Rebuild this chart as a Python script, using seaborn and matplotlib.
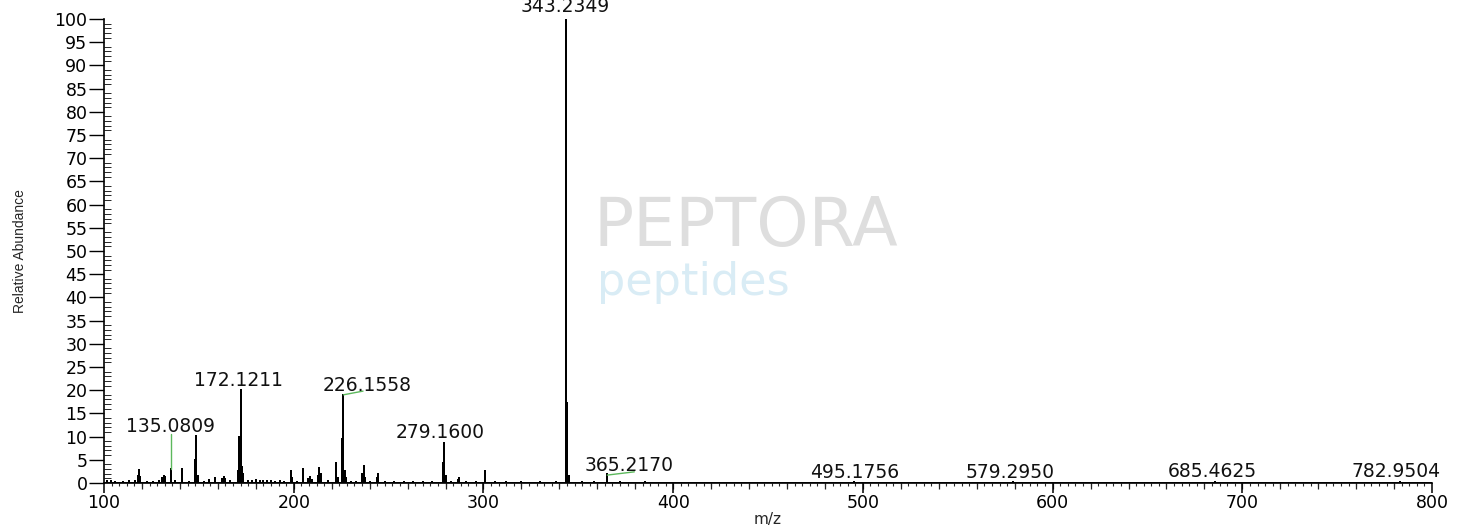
import numpy as np
import pandas as pd
import matplotlib
matplotlib.use("Agg")
import matplotlib.pyplot as plt
from matplotlib.ticker import MultipleLocator
import seaborn as sns

# ---- data: stick spectrum (m/z, relative abundance) ----
mz = [101.5, 103.5, 106.0, 110.0, 113.0, 116.5, 118.1, 118.6, 119.1, 122.5,
      126.0, 129.0, 130.5, 131.5, 132.3, 135.08, 137.5, 140.9, 144.5, 147.9,
      148.6, 149.3, 152.5, 155.5, 158.5, 162.0, 163.0, 163.8, 166.5, 170.8,
      171.2, 172.12, 172.8, 173.4, 176.0, 178.0, 180.0, 182.0, 184.0, 186.0,
      188.0, 190.0, 192.5, 195.0, 198.4, 199.0, 201.5, 204.9, 207.5, 208.6,
      209.5, 212.8, 213.5, 214.3, 218.0, 222.4, 223.2, 225.5, 226.16, 226.8,
      227.5, 230.0, 233.0, 236.0, 237.0, 237.6, 240.0, 243.6, 244.4, 248.0,
      253.0, 258.0, 263.0, 268.0, 273.0, 278.6, 279.16, 280.2, 283.0, 286.5,
      287.3, 291.0, 296.0, 301.0, 306.0, 312.0, 320.0, 330.0, 338.0, 343.23,
      344.24, 345.24, 352.0, 358.0, 365.22, 372.0, 385.0, 495.18, 579.30,
      685.46, 782.95]
abundance = [0.4, 0.5, 0.3, 0.3, 0.4, 0.5, 1.5, 2.7, 1.2, 0.3,
             0.3, 0.4, 1.0, 1.5, 1.2, 3.0, 0.4, 3.0, 0.3, 5.0,
             10.2, 1.5, 0.3, 0.6, 1.0, 0.8, 1.2, 0.9, 0.4, 2.5,
             10.0, 20.0, 3.5, 2.0, 0.5, 0.4, 0.6, 0.4, 0.5, 0.4,
             0.5, 0.3, 0.4, 0.3, 2.5, 1.0, 0.3, 3.0, 0.8, 1.2,
             0.6, 1.5, 3.3, 2.0, 0.4, 4.4, 1.0, 9.5, 19.0, 2.5,
             1.0, 0.3, 0.3, 2.0, 3.6, 1.0, 0.3, 1.0, 2.0, 0.3,
             0.2, 0.2, 0.2, 0.2, 0.2, 4.4, 8.6, 1.5, 0.3, 0.6,
             1.0, 0.2, 0.2, 2.5, 0.2, 0.2, 0.2, 0.2, 0.2, 100.0,
             17.2, 1.5, 0.2, 0.2, 1.9, 0.2, 0.2, 0.2, 0.15,
             0.3, 0.15]

# ---- peak annotations ----
label_text = ["343.2349", "172.1211", "226.1558", "135.0809", "279.1600",
              "365.2170", "495.1756", "579.2950", "685.4625", "782.9504"]
label_x = [343.2, 170.6, 238.5, 135.1, 277.0, 376.8, 495.8, 577.5, 684.0, 781.0]
label_y = [100.6, 20.0, 19.0, 10.2, 8.9, 1.8, 0.3, 0.3, 0.5, 0.5]

# connector segments (green) : from peak to label
conn_x0 = [135.08, 226.16, 365.22]
conn_y0 = [3.0, 19.0, 1.7]
conn_x1 = [135.08, 236.5, 379.5]
conn_y1 = [10.5, 19.8, 2.4]

# ---- build stick profile for seaborn ----
px, py = [], []
for m, a in zip(mz, abundance):
    px += [m, m, m]
    py += [0.0, a, 0.0]
profile = pd.DataFrame({"m/z": [100.0] + px + [800.0],
                        "Relative Abundance": [0.0] + py + [0.0]})

sns.set_theme(style="ticks")
plt.rcParams["font.family"] = ["DejaVu Sans"]

fig = plt.figure(figsize=(14.68, 5.29), dpi=100)
ax = fig.add_axes([0.0709, 0.0870, 0.9046, 0.8771])

# watermark (behind the data)
fig.text(0.404, 0.535, "PEPTORA", fontsize=48, color="#dedede",
         family=["DejaVu Sans"], ha="left", va="baseline", zorder=0)
fig.text(0.407, 0.443, "peptides", fontsize=32, color="#d9ecf5",
         family=["DejaVu Sans"], ha="left", va="baseline", zorder=0)
ax.patch.set_alpha(0)

sns.lineplot(data=profile, x="m/z", y="Relative Abundance", sort=False,
             estimator=None, color="black", linewidth=1.4, ax=ax)

for x0, y0, x1, y1 in zip(conn_x0, conn_y0, conn_x1, conn_y1):
    ax.plot([x0, x1], [y0, y1], color="#5cb85c", linewidth=1.0)

for t, x, y in zip(label_text, label_x, label_y):
    ax.text(x, y, t, ha="center", va="bottom", fontsize=13.5,
            color="#111111", clip_on=False)

ax.set_xlim(100, 800)
ax.set_ylim(0, 100)
ax.xaxis.set_major_locator(MultipleLocator(100))
ax.xaxis.set_minor_locator(MultipleLocator(4))
ax.yaxis.set_major_locator(MultipleLocator(5))
ax.yaxis.set_minor_locator(MultipleLocator(1))

for s in ["top", "right"]:
    ax.spines[s].set_visible(False)
for s in ["left", "bottom"]:
    ax.spines[s].set_linewidth(1.2)
    ax.spines[s].set_color("black")

ax.tick_params(axis="x", which="major", direction="out", length=7, width=1.1,
               labelsize=12.5, pad=1, colors="black")
ax.tick_params(axis="x", which="minor", direction="out", length=2, width=0.8)
ax.tick_params(axis="y", which="major", direction="out", length=11, width=1.0,
               labelsize=12.5, pad=1, colors="black")
ax.tick_params(axis="y", which="minor", direction="in", length=5, width=0.7)

sec = ax.secondary_xaxis("bottom")
sec.set_xticks(np.arange(120, 800, 20))
sec.tick_params(direction="out", length=4.5, width=0.9, labelbottom=False)
sec.spines["bottom"].set_visible(False)

ax.set_xlabel("m/z", fontsize=11, labelpad=0)
ax.set_ylabel("Relative Abundance", fontsize=10,
              family=["Liberation Sans", "DejaVu Sans"])
ax.yaxis.set_label_coords(-0.058, 0.5)

fig.savefig("out.png", dpi=100)
